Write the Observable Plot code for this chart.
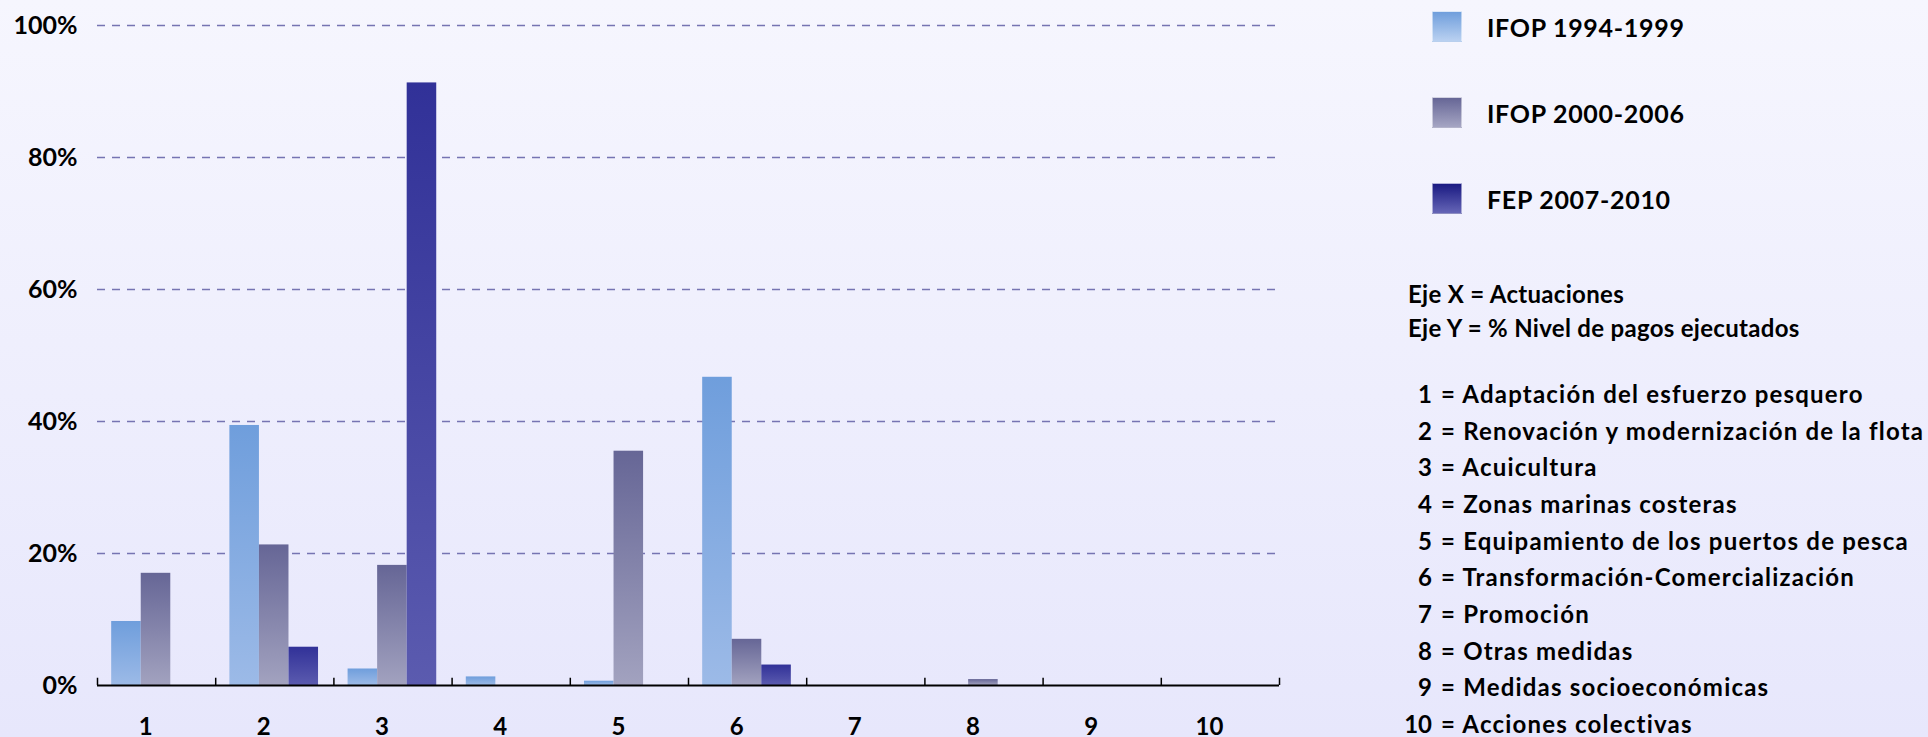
<!DOCTYPE html>
<html><head><meta charset="utf-8">
<script src="https://cdn.jsdelivr.net/npm/d3@7"></script>
<script src="https://cdn.jsdelivr.net/npm/@observablehq/plot@0.6"></script>
<style>
html,body{margin:0;padding:0;}
body{width:1928px;height:737px;overflow:hidden;position:relative;
  background:linear-gradient(to bottom,#f6f6fe,#e7e7fc);
  font-family:Lato,"Noto Sans",sans-serif;font-weight:700;color:#000;}
#chart{position:absolute;left:0;top:0;}
#legend{position:absolute;left:1432px;top:11px;}
.item{display:flex;align-items:center;height:31px;margin-bottom:55px;}
.sw{width:30px;height:31px;box-sizing:border-box;}
.lab{margin-left:25px;font-size:25px;letter-spacing:0.7px;white-space:nowrap;}
#notes{position:absolute;left:1408px;top:277px;font-size:24px;letter-spacing:0.3px;line-height:34px;white-space:nowrap;}
#list{position:absolute;left:1398px;top:375px;font-size:24px;letter-spacing:1.2px;}
.row{display:flex;height:36.7px;align-items:center;white-space:nowrap;}
.num{width:34px;text-align:right;letter-spacing:0;}
.txt{margin-left:9px;}
</style></head><body>
<div id="chart"></div><div id="legend"></div><div id="notes"></div><div id="list"></div>
<script>
// ---- data ----
const categories = [1, 2, 3, 4, 5, 6, 7, 8, 9, 10];
const series = ["IFOP 1994-1999", "IFOP 2000-2006", "FEP 2007-2010"];
const ifop9499 = [9.7, 39.4, 2.5, 1.3, 0.65, 46.7, 0, 0, 0, 0];
const ifop0006 = [17.0, 21.3, 18.2, 0, 35.5, 7.0, 0, 0.9, 0, 0];
const fep0710 = [0, 5.8, 91.3, 0, 0, 3.1, 0, 0, 0, 0];
const yTicks = [0, 20, 40, 60, 80, 100];
const categoryNames = [
  "Adaptación del esfuerzo pesquero",
  "Renovación y modernización de la flota",
  "Acuicultura",
  "Zonas marinas costeras",
  "Equipamiento de los puertos de pesca",
  "Transformación-Comercialización",
  "Promoción",
  "Otras medidas",
  "Medidas socioeconómicas",
  "Acciones colectivas"
];
const notes = ["Eje X = Actuaciones", "Eje Y = % Nivel de pagos ejecutados"];

// ---- styles ----
const barGrad = [["#6f9edc", "#9cbae7"], ["#666696", "#a2a2bf"], ["#313198", "#5b5baf"]];
const swatchGrad = [["#6f9edc", "#bad1f1"], ["#666696", "#a5a5c3"], ["#1a1a82", "#6565b6"]];
const groupPad = 0.12, barW = 0.25;

const valuesBySeries = [ifop9499, ifop0006, fep0710];
const rows = series.flatMap((s, k) => categories.map((c, i) => ({cat: c, series: s, k, value: valuesBySeries[k][i]})));
const boundaries = d3.range(categories.length + 1).map(i => categories[0] - 0.5 + i);

const plot = Plot.plot({
  width: 1390, height: 737,
  marginLeft: 97, marginRight: 111, marginTop: 25, marginBottom: 52,
  style: {background: "transparent", fontFamily: "Lato, 'Noto Sans', sans-serif", fontWeight: 700, fontSize: "25px", color: "#000", overflow: "visible"},
  x: {domain: [boundaries[0], boundaries[boundaries.length - 1]], label: null},
  y: {domain: [0, 100], label: null},
  marks: [
    Plot.ruleY(yTicks.filter(d => d > 0), {stroke: "#7674b2", strokeWidth: 1.5, strokeDasharray: "8,7"}),
    ...series.map((s, k) => Plot.rectY(rows.filter(r => r.k === k), {
      x1: r => r.cat - 0.5 + groupPad + k * barW,
      x2: r => r.cat - 0.5 + groupPad + (k + 1) * barW,
      y1: 0, y2: "value",
      fill: `url(#grad${k})`
    })),
    Plot.ruleY([0], {stroke: "#000", strokeWidth: 2}),
    Plot.ruleX(boundaries, {y1: 0, y2: 1.1, stroke: "#000", strokeWidth: 1.5}),
    Plot.axisY({ticks: yTicks, tickSize: 0, tickPadding: 20, tickFormat: d => d + "%", label: null}),
    Plot.axisX({ticks: categories, tickSize: 0, tickPadding: 32, dx: -11, fontSize: 24, tickFormat: d => String(d), label: null})
  ]
});

// gradients
const NS = "http://www.w3.org/2000/svg";
const defs = document.createElementNS(NS, "defs");
barGrad.forEach(([top, bottom], k) => {
  const g = document.createElementNS(NS, "linearGradient");
  g.setAttribute("id", `grad${k}`);
  g.setAttribute("x1", 0); g.setAttribute("y1", 0); g.setAttribute("x2", 0); g.setAttribute("y2", 1);
  [[0, top], [1, bottom]].forEach(([o, c]) => {
    const st = document.createElementNS(NS, "stop");
    st.setAttribute("offset", o); st.setAttribute("stop-color", c);
    g.appendChild(st);
  });
  defs.appendChild(g);
});
plot.insertBefore(defs, plot.firstChild);
document.getElementById("chart").appendChild(plot);

// legend
const legend = document.getElementById("legend");
series.forEach((s, k) => {
  const it = document.createElement("div"); it.className = "item";
  const sw = document.createElement("div"); sw.className = "sw";
  sw.style.background = `linear-gradient(to bottom, ${swatchGrad[k][0]}, ${swatchGrad[k][1]})`;
  sw.style.border = "1px solid rgba(255,255,255,0.5)";
  const lab = document.createElement("div"); lab.className = "lab"; lab.textContent = s;
  it.appendChild(sw); it.appendChild(lab); legend.appendChild(it);
});
const notesDiv = document.getElementById("notes");
notes.forEach(n => { const d = document.createElement("div"); d.textContent = n; notesDiv.appendChild(d); });
const list = document.getElementById("list");
categories.forEach((c, i) => {
  const r = document.createElement("div"); r.className = "row";
  const n = document.createElement("div"); n.className = "num"; n.textContent = c;
  const t = document.createElement("div"); t.className = "txt"; t.textContent = "= " + categoryNames[i];
  r.appendChild(n); r.appendChild(t); list.appendChild(r);
});
</script>
</body></html>
